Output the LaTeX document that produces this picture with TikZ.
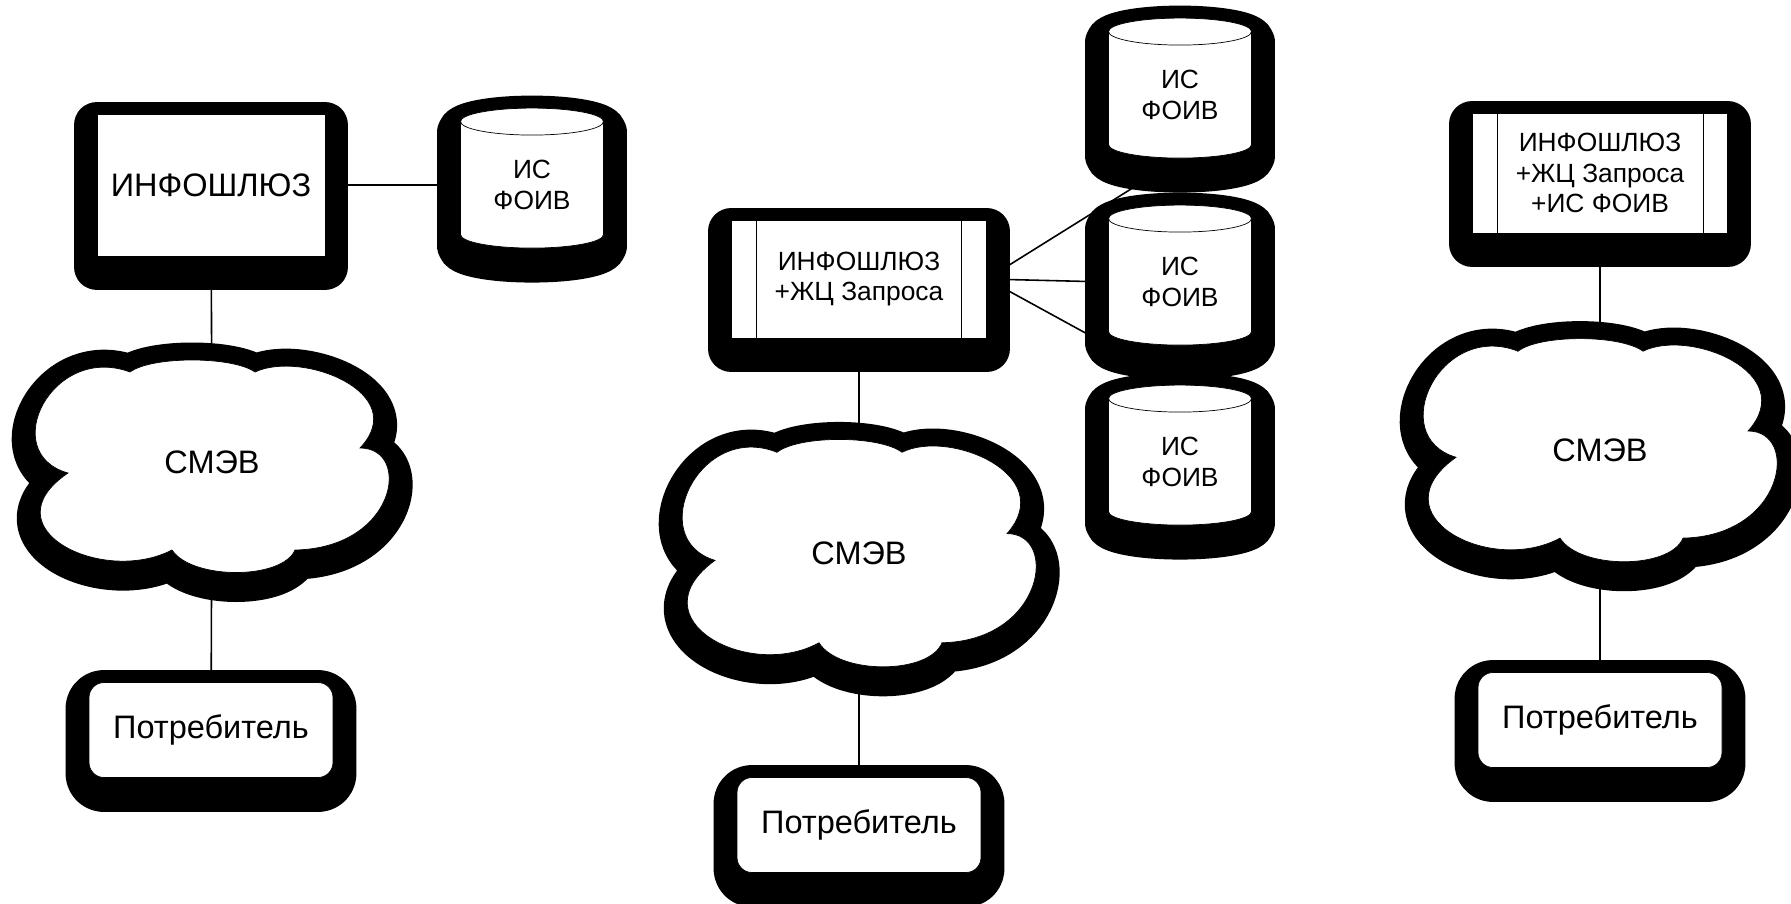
\documentclass[tikz,border=0pt]{standalone}
\usepackage{fontspec}
\setmainfont{Liberation Sans}
\usetikzlibrary{shapes.geometric,backgrounds}

\tikzset{
  blob/.style={preaction={draw=black,fill=black,line width=0.94cm,line join=round,
      transform canvas={yshift=-#1}}},
  blob/.default=0.22cm,
  bigtext/.style={font=\fontsize{18.5}{22}\selectfont},
  smalltext/.style={font=\fontsize{15}{17.6}\selectfont},
  gate/.style={blob,draw,fill=white,rectangle,inner sep=0pt,align=center},
  base/.style={blob,draw,fill=white,cylinder,shape border rotate=90,aspect=0.35,
      minimum width=2.86cm,minimum height=2.8cm,inner sep=0pt,align=center,smalltext,
      execute at begin node={\rule{0pt}{17.5pt}}},
  user/.style={blob,draw,fill=white,rounded corners=0.3cm,minimum width=4.88cm,
      minimum height=1.9cm,inner sep=0pt,bigtext},
  link/.style={line width=0.9pt},
}

% cloud outline round a centre, #1 = yscale
\newcommand{\smevshape}[2][1]{%
  \path[blob=0.12cm,draw,fill=white,shift={#2},yscale=#1]
    (-82,-96) .. controls (-60,-112) and (20,-112) .. (43,-96)
    .. controls (90,-118) and (200,-75) .. (148,-20)
    .. controls (200,-20) and (185,80) .. (83,82)
    .. controls (70,112) and (-20,112) .. (-40,82)
    .. controls (-110,118) and (-225,60) .. (-144,5)
    .. controls (-215,-15) and (-160,-125) .. cycle;
}

\begin{document}
\begin{tikzpicture}[x=0.02cm,y=-0.02cm]
  \useasboundingbox (0,0) rectangle (1791,903);

  % left
  \node[gate,bigtext,minimum width=4.56cm,minimum height=2.84cm] (gw1) at (211,185) {ИНФОШЛЮЗ};
  \node[base] (cyl1) at (532,185) {ИС\\ФОИВ};
  \smevshape{(212,468)}
  \node[bigtext] (smev1) at (212,462) {СМЭВ};
  \node[user] (user1) at (211,730) {Потребитель};

  % middle
  \node[gate,smalltext,minimum width=5.1cm,minimum height=2.36cm] (gw2) at (859,279) {ИНФОШЛЮЗ\\+ЖЦ Запроса};
  \node[base] (cylA) at (1180,95) {ИС\\ФОИВ};
  \node[base] (cylB) at (1180,282) {ИС\\ФОИВ};
  \node[base] (cylC) at (1180,462) {ИС\\ФОИВ};
  \smevshape[1.07]{(859,555)}
  \node[bigtext] (smev2) at (859,553) {СМЭВ};
  \node[user] (user2) at (859,825) {Потребитель};

  % right
  \node[gate,smalltext,minimum width=5.1cm,minimum height=2.4cm] (gw3) at (1600,173) {ИНФОШЛЮЗ\\+ЖЦ Запроса\\+ИС ФОИВ};
  \smevshape[1.05]{(1600,452)}
  \node[bigtext] (smev3) at (1600,450) {СМЭВ};
  \node[user] (user3) at (1600,720) {Потребитель};

  \foreach \g in {gw2,gw3} {
    \draw ([xshift=0.5cm]\g.north west) -- ([xshift=0.5cm]\g.south west);
    \draw ([xshift=-0.5cm]\g.north east) -- ([xshift=-0.5cm]\g.south east);
  }

  \begin{pgfonlayer}{background}
    \draw[link] (gw1) -- (cyl1);
    \draw[link] (gw1) -- (smev1);
    \draw[link] (smev1) -- (user1);
    \draw[link] (gw2.east) -- (cylA.south);
    \draw[link] (gw2.east) -- (cylB.west);
    \draw[link] (gw2.east) -- (cylC.north);
    \draw[link] (gw2) -- (smev2);
    \draw[link] (smev2) -- (user2);
    \draw[link] (gw3) -- (smev3);
    \draw[link] (smev3) -- (user3);
  \end{pgfonlayer}
\end{tikzpicture}
\end{document}
